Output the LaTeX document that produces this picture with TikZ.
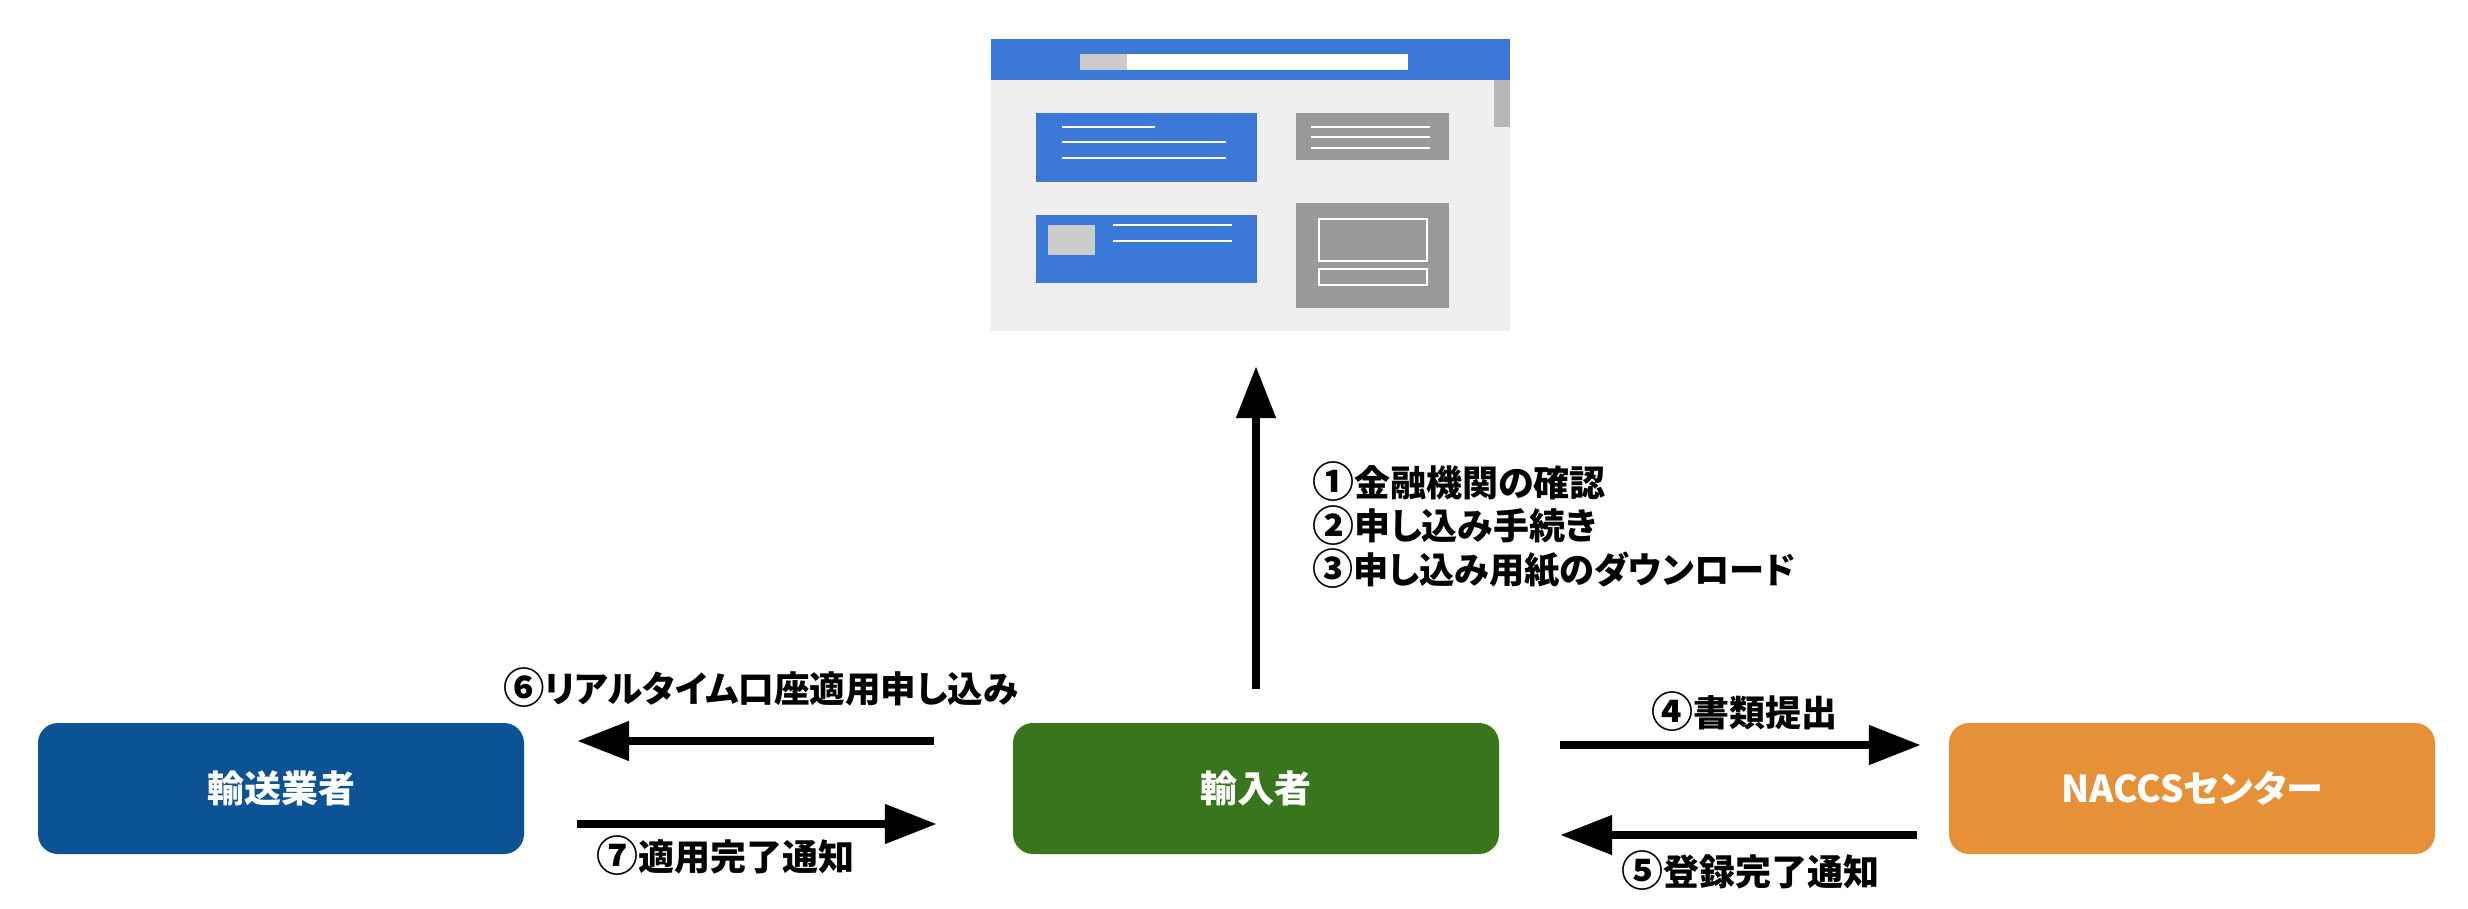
\documentclass[tikz,border=0pt]{standalone}
\usepackage{fontspec}
\setmainfont{Noto Sans CJK JP}[RawFeature=+palt]
\newfontfamily\fullw{Noto Sans CJK JP}
\newcommand{\cn}[1]{\raisebox{-0.05em}{\fontsize{42}{42}\fullw\bfseries #1}}
\usetikzlibrary{arrows.meta}
\definecolor{cblue}{HTML}{0B5394}
\definecolor{cgreen}{HTML}{38761D}
\definecolor{corange}{HTML}{E69138}
\definecolor{wblue}{HTML}{3C78D8}
\definecolor{wbg}{HTML}{EFEFEF}
\definecolor{wgrey}{HTML}{999999}
\definecolor{wlight}{HTML}{CCCCCC}
\definecolor{wscroll}{HTML}{B7B7B7}
\tikzset{
  actor/.style={draw=none,rounded corners=20pt,minimum width=486pt,minimum height=131pt,inner sep=0pt,text=white,font=\fontsize{37}{40}\selectfont\bfseries},
  flow/.style={line width=8pt,-{Triangle[length=52pt,width=38pt]}},
  lbl/.style={anchor=west,inner sep=0pt,align=left,font=\fontsize{36}{43}\selectfont\bfseries},
  wline/.style={draw=white,line width=2pt},
  wbox/.style={draw=white,line width=2pt},
}
\begin{document}
\begin{tikzpicture}[x=1pt,y=-1pt]
\useasboundingbox (0,0) rectangle (2468,908);
% browser mock-up
\node[fill=wbg,minimum width=519.5pt,minimum height=292pt,inner sep=0pt] (browser) at (1250.5,185) {};
\fill[wblue] (browser.north west) rectangle (1510,80);
\fill[white] (1080,54) rectangle (1408,70);
\fill[wlight] (1080,54) rectangle (1127,70);
\fill[wscroll] (1494,80) rectangle (1510,127);
\fill[wblue] (1036,113) rectangle (1257,182);
\draw[wline] (1062,127) -- (1155,127);
\draw[wline] (1062,142) -- (1226,142);
\draw[wline] (1062,158) -- (1226,158);
\fill[wgrey] (1296,113) rectangle (1448.5,160);
\draw[wline] (1311,126.5) -- (1430,126.5);
\draw[wline] (1311,137) -- (1430,137);
\draw[wline] (1311,147.5) -- (1430,147.5);
\fill[wblue] (1036,215) rectangle (1257,283);
\fill[wlight] (1048,225) rectangle (1095,255);
\draw[wline] (1113,225) -- (1232,225);
\draw[wline] (1113,241) -- (1232,241);
\fill[wgrey] (1296,203) rectangle (1448.5,308);
\draw[wbox] (1319,219) rectangle (1427,261);
\draw[wbox] (1319,269) rectangle (1427,285);
% actors
\node[actor,fill=cblue] (carrier) at (281,788.5) {輸送業者};
\node[actor,fill=cgreen] (importer) at (1256,788.5) {輸入者};
\node[actor,fill=corange] (naccs) at (2192,788.5) {NACCSセンター};
% connectors
\draw[flow,shorten <=34pt,shorten >=35pt] (importer.north) -- (importer.north |- browser.south);
\draw[flow,shorten <=79pt,shorten >=53pt] ([yshift=47.5pt]importer.west) -- ([yshift=47.5pt]carrier.east);
\draw[flow,shorten <=53pt,shorten >=76pt] ([yshift=-35.5pt]carrier.east) -- ([yshift=-35.5pt]importer.west);
\draw[flow,shorten <=61pt,shorten >=28pt] ([yshift=43.5pt]importer.east) -- ([yshift=43.5pt]naccs.west);
\draw[flow,shorten <=32pt,shorten >=61pt] ([yshift=-46.5pt]naccs.west) -- ([yshift=-46.5pt]importer.east);
% labels
\node[lbl] (s1) at (1312,482) {\cn{①}金融機関の確認};
\node[lbl] (s2) at (1312,525.5) {\cn{②}申し込み手続き};
\node[lbl,xscale=0.978] (s3) at (1312,569) {\cn{③}申し込み用紙のダウンロード};
\node[lbl,xscale=0.987] (l6) at (503,688) {\cn{⑥}リアルタイム口座適用申し込み};
\node[lbl] (l7) at (596,856) {\cn{⑦}適用完了通知};
\node[lbl] (l4) at (1651,712) {\cn{④}書類提出};
\node[lbl] (l5) at (1621,871) {\cn{⑤}登録完了通知};
\end{tikzpicture}
\end{document}
